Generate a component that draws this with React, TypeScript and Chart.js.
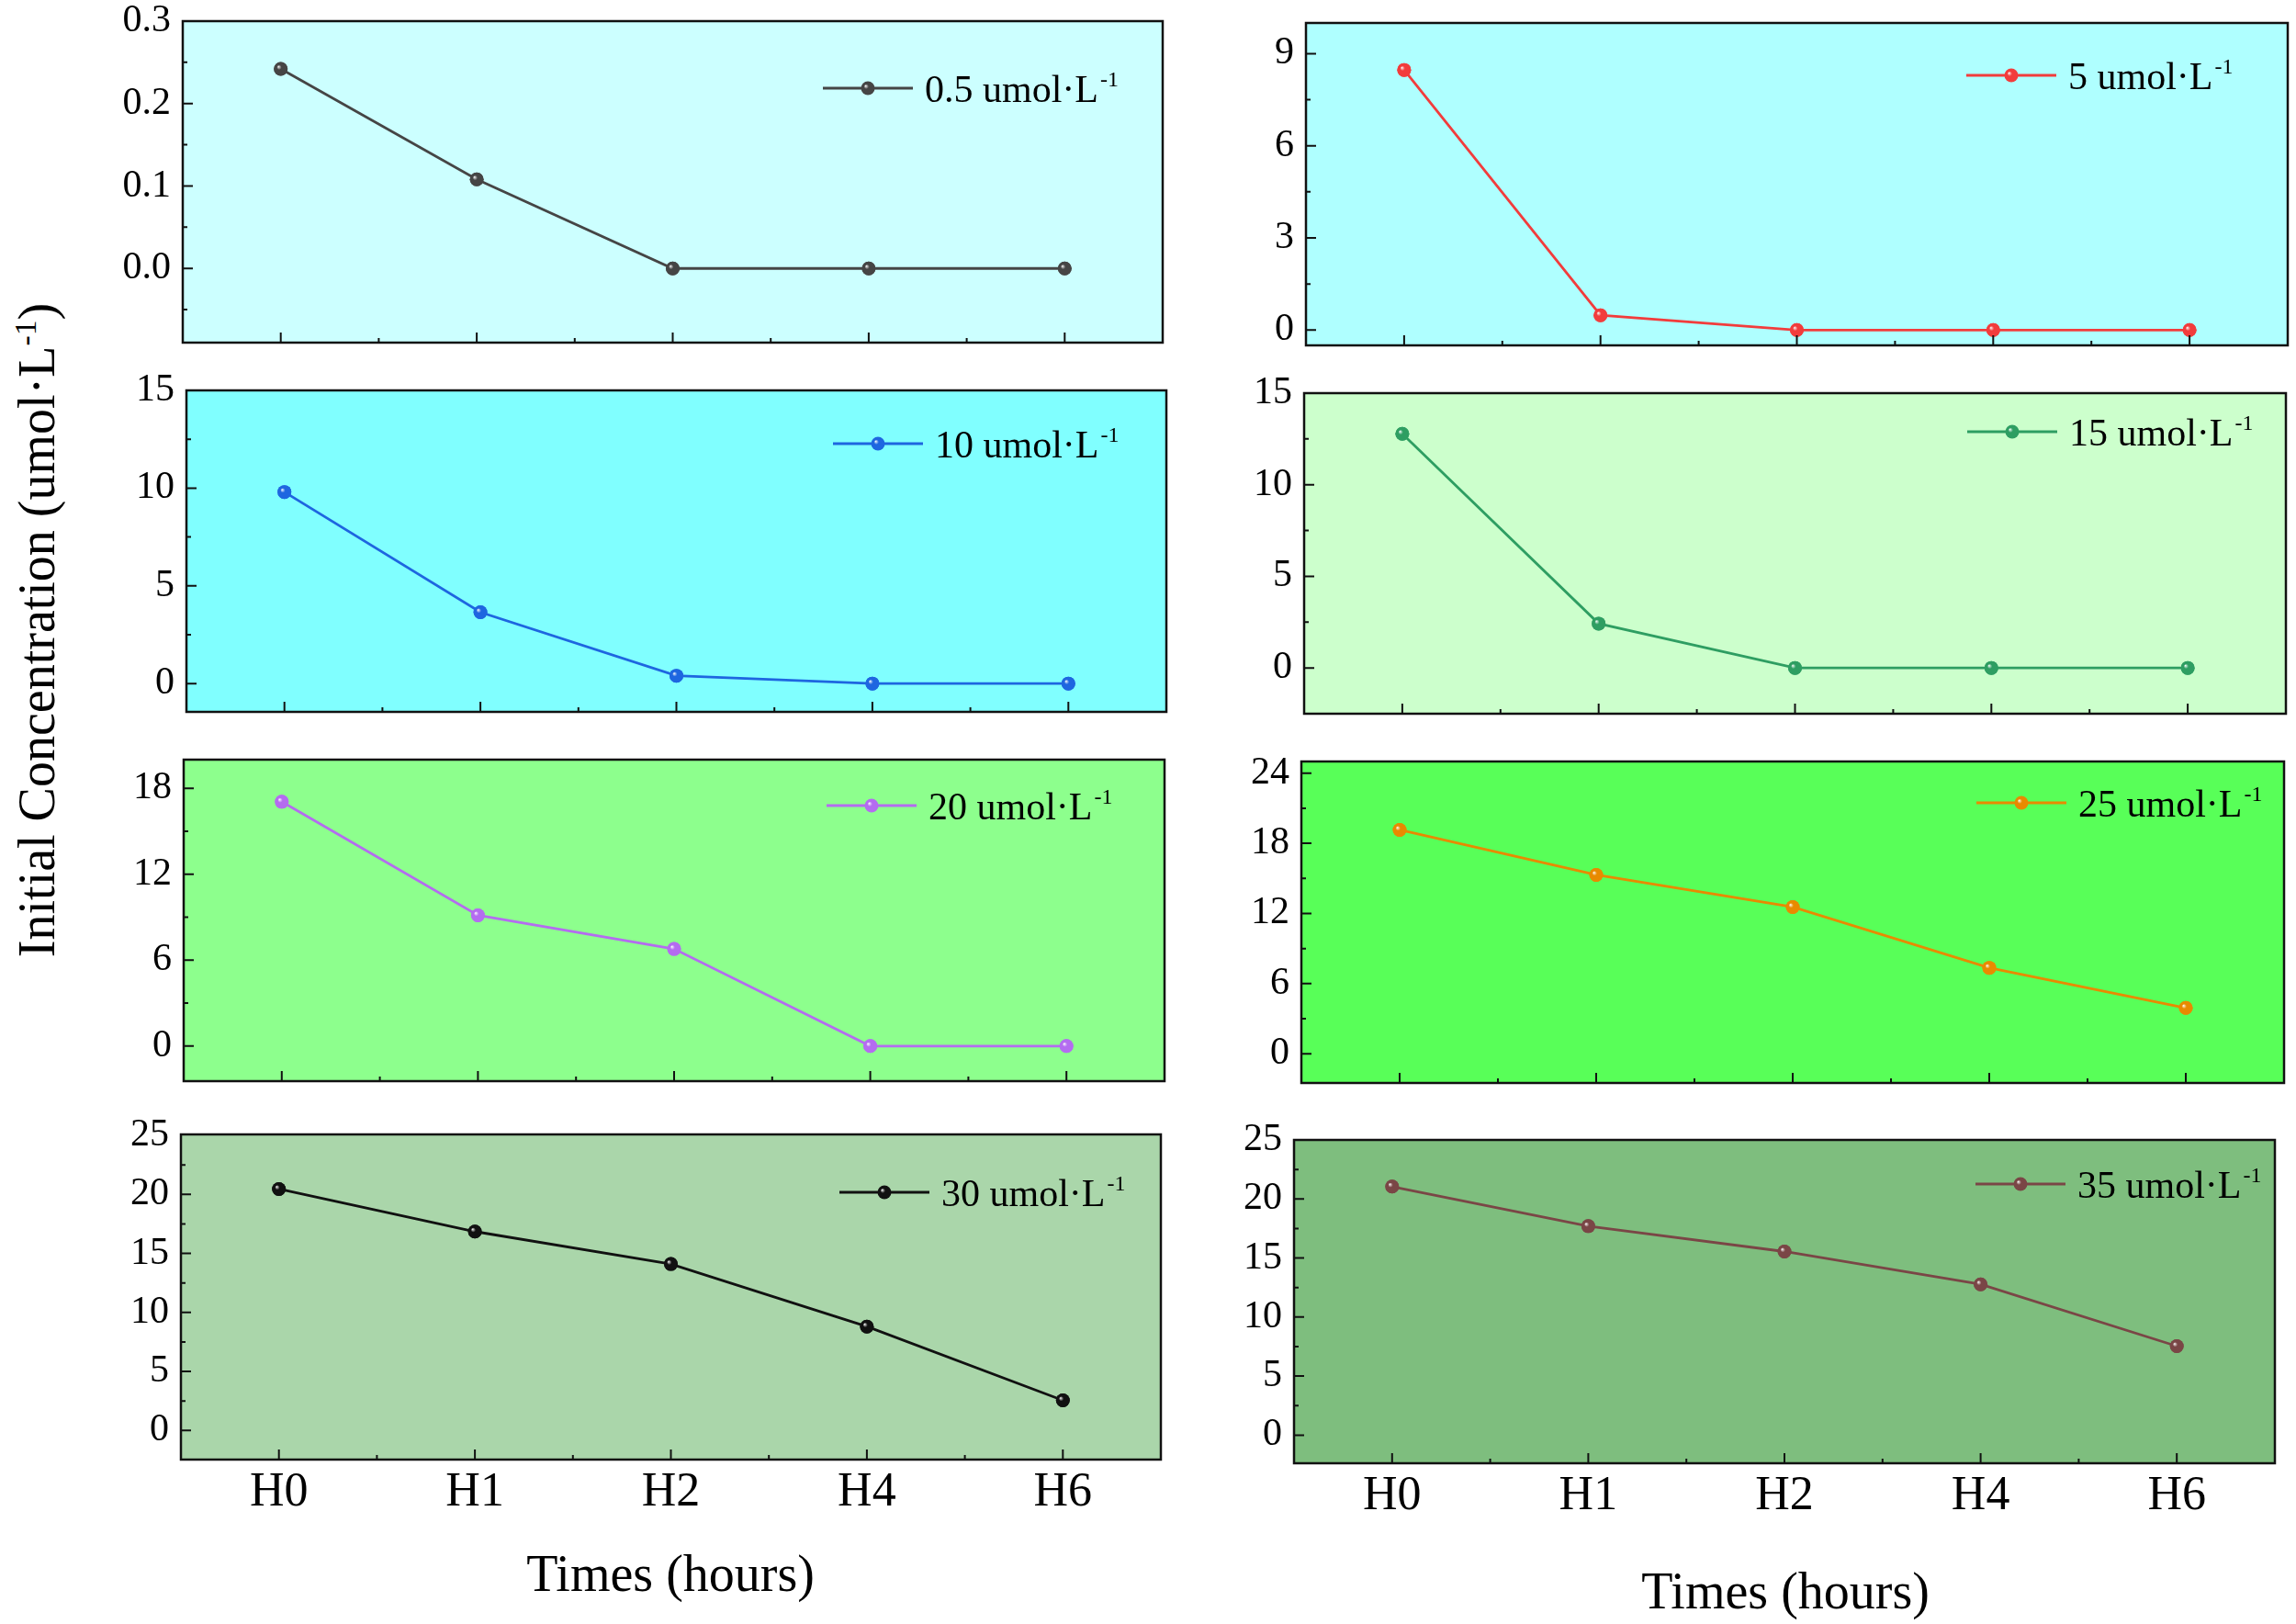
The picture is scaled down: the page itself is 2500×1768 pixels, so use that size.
import React, { useEffect, useRef } from 'react';
import { Chart, registerables } from 'chart.js';

Chart.register(...registerables);

const FONT = '"Liberation Serif", "Times New Roman", Times, serif';
Chart.defaults.font.family = FONT;

// sampling times
const times = ['H0', 'H1', 'H2', 'H4', 'H6'];

// measured concentration for each initial dose (umol/L)
const conc05 = [0.242, 0.108, 0, 0, 0];
const conc5 = [8.47, 0.48, 0, 0, 0];
const conc10 = [9.8, 3.65, 0.4, 0, 0];
const conc15 = [12.78, 2.42, 0, 0, 0];
const conc20 = [17.06, 9.13, 6.78, 0, 0];
const conc25 = [19.15, 15.3, 12.55, 7.35, 3.92];
const conc30 = [20.45, 16.85, 14.1, 8.8, 2.55];
const conc35 = [21.05, 17.7, 15.55, 12.77, 7.54];

// labelled y ticks per panel
const ticks05 = [0, 0.1, 0.2, 0.3];
const ticks5 = [0, 3, 6, 9];
const ticks10 = [0, 5, 10, 15];
const ticks15 = [0, 5, 10, 15];
const ticks20 = [0, 6, 12, 18];
const ticks25 = [0, 6, 12, 18, 24];
const ticks30 = [0, 5, 10, 15, 20, 25];
const ticks35 = [0, 5, 10, 15, 20, 25];

interface Panel {
  label: string;
  sup: string;
  values: number[];
  yTicks: number[];
  minor: number;
  yMin: number;
  yMax: number;
  decimals: number;
  color: string;
  bg: string;
  frame: [number, number, number, number]; // left, top, right, bottom
  legendRight: number; // distance of legend line start from right frame
  legendTop: number; // legend centre below top frame
  showX: boolean;
}

const panels: Panel[] = [
  { label: '0.5 umol·L', sup: '-1', values: conc05, yTicks: ticks05, minor: 0.05, yMin: -0.09, yMax: 0.3, decimals: 1,
    color: '#454545', bg: '#CCFFFF', frame: [199, 23, 1266, 373], legendRight: 370, legendTop: 73, showX: false },
  { label: '5 umol·L', sup: '-1', values: conc5, yTicks: ticks5, minor: 1.5, yMin: -0.5, yMax: 10, decimals: 0,
    color: '#F23C3C', bg: '#AFFFFF', frame: [1422, 25, 2491, 376], legendRight: 350, legendTop: 57, showX: false },
  { label: '10 umol·L', sup: '-1', values: conc10, yTicks: ticks10, minor: 2.5, yMin: -1.45, yMax: 15, decimals: 0,
    color: '#1E66E0', bg: '#80FFFF', frame: [203, 425, 1270, 775], legendRight: 363, legendTop: 58, showX: false },
  { label: '15 umol·L', sup: '-1', values: conc15, yTicks: ticks15, minor: 2.5, yMin: -2.5, yMax: 15, decimals: 0,
    color: '#2E9E62', bg: '#CCFFCC', frame: [1420, 428, 2489, 777], legendRight: 347, legendTop: 42, showX: false },
  { label: '20 umol·L', sup: '-1', values: conc20, yTicks: ticks20, minor: 3, yMin: -2.45, yMax: 20, decimals: 0,
    color: '#B46CF0', bg: '#8DFF8D', frame: [200, 827, 1268, 1177], legendRight: 368, legendTop: 50, showX: false },
  { label: '25 umol·L', sup: '-1', values: conc25, yTicks: ticks25, minor: 3, yMin: -2.5, yMax: 25, decimals: 0,
    color: '#E88A00', bg: '#58FF58', frame: [1417, 829, 2487, 1179], legendRight: 335, legendTop: 45, showX: false },
  { label: '30 umol·L', sup: '-1', values: conc30, yTicks: ticks30, minor: 2.5, yMin: -2.47, yMax: 25.08, decimals: 0,
    color: '#111111', bg: '#AAD6AA', frame: [197, 1235, 1264, 1589], legendRight: 350, legendTop: 63, showX: true },
  { label: '35 umol·L', sup: '-1', values: conc35, yTicks: ticks35, minor: 2.5, yMin: -2.38, yMax: 25, decimals: 0,
    color: '#7A4646', bg: '#7EBE7E', frame: [1409, 1241, 2477, 1593], legendRight: 326, legendTop: 48, showX: true },
];

const YW = 120; // room for y tick labels
const PT = 40; // room above frame
const PR = 14; // room right of frame
const R = 7.5; // marker radius

// shaded "ball" marker like the original plot symbols
const drawBall = (g: CanvasRenderingContext2D, x: number, y: number, color: string) => {
  if (!isFinite(x) || !isFinite(y)) return;
  const grad = g.createRadialGradient(x - R * 0.35, y - R * 0.35, 0, x, y, R);
  grad.addColorStop(0, '#ffffff');
  grad.addColorStop(0.35, color);
  grad.addColorStop(1, color);
  g.fillStyle = grad;
  g.beginPath();
  g.arc(x, y, R, 0, Math.PI * 2);
  g.fill();
};

const panelPlugin = {
  id: 'panel',
  beforeDraw(chart: any, _args: any, opts: any) {
    const { left, top, right, bottom } = chart.chartArea;
    const g = chart.ctx;
    g.save();
    g.fillStyle = opts.bg;
    g.fillRect(left, top, right - left, bottom - top);
    g.restore();
  },
  afterDatasetsDraw(chart: any, _args: any, opts: any) {
    const g: CanvasRenderingContext2D = chart.ctx;
    g.save();
    chart.getDatasetMeta(0).data.forEach((el: any) => drawBall(g, el.x, el.y, opts.color));
    g.restore();
  },
  afterDraw(chart: any, _args: any, opts: any) {
    const { left, top, right, bottom } = chart.chartArea;
    const g: CanvasRenderingContext2D = chart.ctx;
    const xs = chart.scales.x;
    const ys = chart.scales.y;
    g.save();
    g.strokeStyle = '#111';
    g.lineWidth = 2;
    // inward ticks on the bottom axis
    g.beginPath();
    for (let i = 0; i < times.length; i++) {
      const px = xs.getPixelForValue(i);
      g.moveTo(px, bottom);
      g.lineTo(px, bottom - 11);
      if (i < times.length - 1) {
        const mx = xs.getPixelForValue(i + 0.5);
        g.moveTo(mx, bottom);
        g.lineTo(mx, bottom - 5);
      }
    }
    // inward ticks on the left axis
    const start = Math.ceil(opts.yMin / opts.minor - 1e-6) * opts.minor;
    for (let v = start; v <= opts.yMax + 1e-9; v += opts.minor) {
      const py = ys.getPixelForValue(v);
      if (py <= top + 2 || py >= bottom - 2) continue;
      const isMajor = opts.yTicks.some((t: number) => Math.abs(t - v) < opts.minor / 10);
      g.moveTo(left, py);
      g.lineTo(left + (isMajor ? 11 : 5), py);
    }
    g.stroke();
    // frame
    g.lineWidth = 2.5;
    g.strokeRect(left, top, right - left, bottom - top);

    // legend
    const lx = right - opts.legendRight;
    const ly = top + opts.legendTop;
    const len = 98;
    g.strokeStyle = opts.color;
    g.lineWidth = 2.8;
    g.beginPath();
    g.moveTo(lx, ly);
    g.lineTo(lx + len, ly);
    g.stroke();
    drawBall(g, lx + len / 2, ly, opts.color);
    g.fillStyle = '#000';
    g.textBaseline = 'alphabetic';
    g.textAlign = 'left';
    g.font = `42px ${FONT}`;
    const tx = lx + len + 13;
    const base = ly + 15;
    g.fillText(opts.label, tx, base);
    const w = g.measureText(opts.label).width;
    g.font = `24px ${FONT}`;
    g.fillText(opts.sup, tx + w + 2, base - 17);
    g.restore();
  },
};

const PanelChart: React.FC<{ p: Panel }> = ({ p }) => {
  const ref = useRef<HTMLCanvasElement>(null);
  const [l, t, r, b] = p.frame;
  const xh = p.showX ? 90 : 40;
  const width = YW + (r - l) + PR;
  const height = PT + (b - t) + xh;

  useEffect(() => {
    if (!ref.current) return;
    const chart = new Chart(ref.current, {
      type: 'line',
      data: {
        labels: times,
        datasets: [
          {
            label: p.label + p.sup,
            data: p.values,
            borderColor: p.color,
            backgroundColor: p.color,
            borderWidth: 2.8,
            pointRadius: R,
            pointBorderWidth: 0,
            pointBackgroundColor: p.color,
            tension: 0,
          },
        ],
      },
      options: {
        animation: false,
        responsive: false,
        events: [],
        layout: { padding: { left: 0, right: PR, top: PT, bottom: 0 } },
        plugins: {
          legend: { display: false },
          tooltip: { enabled: false },
          // @ts-ignore custom plugin options
          panel: {
            bg: p.bg,
            color: p.color,
            label: p.label,
            sup: p.sup,
            yTicks: p.yTicks,
            minor: p.minor,
            yMin: p.yMin,
            yMax: p.yMax,
            legendRight: p.legendRight,
            legendTop: p.legendTop,
          },
        },
        scales: {
          x: {
            type: 'category',
            offset: true,
            grid: { display: false },
            border: { display: false },
            ticks: {
              display: p.showX,
              color: '#000',
              font: { size: 52, family: FONT },
              padding: -3,
              maxRotation: 0,
              autoSkip: false,
            },
            afterFit: (s: any) => {
              s.height = xh;
            },
          },
          y: {
            type: 'linear',
            min: p.yMin,
            max: p.yMax,
            grid: { display: false },
            border: { display: false },
            ticks: {
              color: '#000',
              font: { size: 42, family: FONT },
              padding: 5,
              callback: (v: any) => Number(v).toFixed(p.decimals),
            },
            afterBuildTicks: (s: any) => {
              s.ticks = p.yTicks.map((v) => ({ value: v }));
            },
            afterFit: (s: any) => {
              s.width = YW;
            },
          },
        },
      },
      plugins: [panelPlugin],
    });
    return () => {
      chart.destroy();
    };
  }, [p]);

  return (
    <div style={{ position: 'absolute', left: l - YW, top: t - PT, width, height }}>
      <canvas ref={ref} width={width} height={height} style={{ width, height }} />
    </div>
  );
};

const textStyle: React.CSSProperties = {
  position: 'absolute',
  fontFamily: FONT,
  color: '#000',
  whiteSpace: 'nowrap',
  lineHeight: 1,
};

const supStyle: React.CSSProperties = {
  fontSize: '0.6em',
  position: 'relative',
  top: '-0.6em',
};

const App: React.FC = () => {
  return (
    <div style={{ position: 'absolute', left: 0, top: 0, width: 2500, height: 1768, background: '#fff', overflow: 'hidden' }}>
      {panels.map((p) => (
        <PanelChart key={p.label} p={p} />
      ))}
      <div
        style={{
          ...textStyle,
          fontSize: 56,
          left: 40,
          top: 686,
          transform: 'translate(-50%, -50%) rotate(-90deg)',
        }}
      >
        Initial Concentration (umol·L<span style={supStyle}>-1</span>)
      </div>
      <div style={{ ...textStyle, fontSize: 56, left: 730, top: 1713, transform: 'translate(-50%, -50%)' }}>
        Times (hours)
      </div>
      <div style={{ ...textStyle, fontSize: 56, left: 1944, top: 1732, transform: 'translate(-50%, -50%)' }}>
        Times (hours)
      </div>
    </div>
  );
};

export default App;
